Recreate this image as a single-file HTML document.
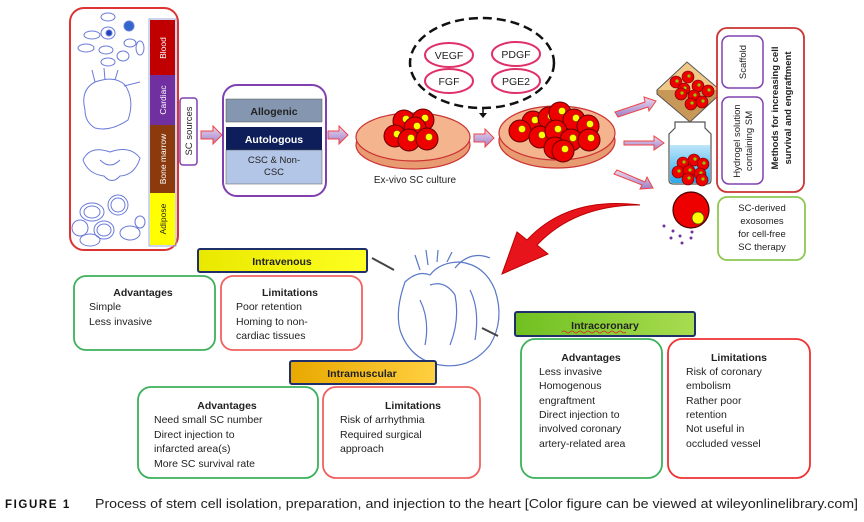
<!DOCTYPE html>
<html><head><meta charset="utf-8"><style>
html,body{margin:0;padding:0;background:#fff}
svg{display:block}
text{font-family:"Liberation Sans",Arial,sans-serif;fill:#222}
</style></head><body>
<svg width="864" height="522" viewBox="0 0 864 522" xmlns="http://www.w3.org/2000/svg">
<defs>
<linearGradient id="ar" x1="0" y1="0" x2="0" y2="1"><stop offset="0" stop-color="#e8d8f0"/><stop offset="1" stop-color="#a080c8"/></linearGradient>
<linearGradient id="yl" x1="0" y1="0" x2="1" y2="0"><stop offset="0" stop-color="#e8e800"/><stop offset="1" stop-color="#ffff20"/></linearGradient>
<linearGradient id="or" x1="0" y1="0" x2="1" y2="0"><stop offset="0" stop-color="#e8a800"/><stop offset="1" stop-color="#ffd040"/></linearGradient>
<linearGradient id="gr" x1="0" y1="0" x2="1" y2="0"><stop offset="0" stop-color="#70c020"/><stop offset="1" stop-color="#a8dc50"/></linearGradient>
<linearGradient id="wt" x1="0" y1="0" x2="0" y2="1"><stop offset="0" stop-color="#bfe6fb"/><stop offset="1" stop-color="#2aa8ea"/></linearGradient>
<g id="cell"><circle r="11" fill="#e00" stroke="#600" stroke-width="1"/><circle cx="2" cy="-2" r="3.5" fill="#ff0" stroke="#660" stroke-width=".5"/></g>
<g id="sc"><circle r="6" fill="#e00" stroke="#600" stroke-width=".6"/><circle cx="1" cy="-1" r="1.6" fill="#8c0"/></g>
</defs>

<!-- Sources box -->
<rect x="70" y="8" width="108" height="242" rx="14" fill="#fff" stroke="#d33" stroke-width="2"/>
<rect x="150" y="20" width="25" height="55" fill="#c00000"/>
<rect x="150" y="75" width="25" height="50" fill="#7030a0"/>
<rect x="150" y="125" width="25" height="68" fill="#8b3a0e"/>
<rect x="150" y="193" width="25" height="52" fill="#ffff00"/>
<rect x="149" y="19" width="27" height="227" fill="none" stroke="#9ad" stroke-width="1"/>
<text transform="translate(166,48) rotate(-90)" text-anchor="middle" font-size="8.5" style="fill:#fff">Blood</text>
<text transform="translate(166,100) rotate(-90)" text-anchor="middle" font-size="8.5" style="fill:#fff">Cardiac</text>
<text transform="translate(166,159) rotate(-90)" text-anchor="middle" font-size="8.5" style="fill:#fff">Bone marrow</text>
<text transform="translate(166,219) rotate(-90)" text-anchor="middle" font-size="8.5" style="fill:#222">Adipose</text>
<!-- sketches -->
<g fill="none" stroke="#6a7ad8" stroke-width="1">
<ellipse cx="108" cy="17" rx="7" ry="4"/><ellipse cx="92" cy="35" rx="8" ry="4"/><ellipse cx="108" cy="33" rx="7" ry="6"/><circle cx="129" cy="26" r="5" fill="#36c"/><circle cx="109" cy="33" r="3" fill="#24b"/>
<ellipse cx="86" cy="48" rx="8" ry="4"/><ellipse cx="106" cy="50" rx="7" ry="4"/><ellipse cx="130" cy="43" rx="6" ry="4"/><ellipse cx="123" cy="56" rx="6" ry="5"/><ellipse cx="140" cy="48" rx="4" ry="7"/><ellipse cx="108" cy="62" rx="7" ry="4"/>
<path d="M85 110 Q80 90 95 82 Q115 75 125 85 Q135 100 128 120 Q110 132 95 128 Q85 122 85 110Z M95 82 L92 70 M105 80 L104 68 M115 80 L118 70 M124 86 L140 82"/>
<path d="M83 160 Q90 145 110 152 Q130 145 140 158 Q135 175 120 176 Q112 185 104 176 Q88 174 83 160Z M100 160 Q110 170 120 160"/>
<ellipse cx="92" cy="212" rx="12" ry="9"/><ellipse cx="92" cy="212" rx="8" ry="6"/><ellipse cx="118" cy="205" rx="10" ry="10"/><ellipse cx="118" cy="205" rx="7" ry="7"/>
<ellipse cx="80" cy="228" rx="8" ry="8"/><ellipse cx="104" cy="230" rx="10" ry="9"/><ellipse cx="104" cy="230" rx="7" ry="6"/><ellipse cx="130" cy="233" rx="10" ry="7"/><ellipse cx="90" cy="240" rx="10" ry="6"/><ellipse cx="140" cy="222" rx="5" ry="6"/>
</g>

<!-- SC sources -->
<rect x="180" y="98" width="17" height="67" rx="3" fill="#fff" stroke="#8040b0" stroke-width="1.5"/>
<text transform="translate(192,131) rotate(-90)" text-anchor="middle" font-size="9.5">SC sources</text>
<path d="M201 131 h12 v-5 l9 9 l-9 9 v-5 h-12z" fill="url(#ar)" stroke="#e44" stroke-width="1"/>

<!-- Allogenic box -->
<rect x="223" y="85" width="103" height="111" rx="14" fill="#fff" stroke="#8040b0" stroke-width="2"/>
<rect x="226" y="99" width="96" height="23" fill="#8496b0" stroke="#555" stroke-width=".5"/>
<text x="274" y="115" text-anchor="middle" font-size="10.5" font-weight="bold">Allogenic</text>
<rect x="226" y="127" width="96" height="23" fill="#0e1e5a"/>
<text x="274" y="143" text-anchor="middle" font-size="10.5" font-weight="bold" style="fill:#fff">Autologous</text>
<rect x="226" y="150" width="96" height="34" fill="#b4c6e7" stroke="#555" stroke-width=".5"/>
<text x="274" y="163" text-anchor="middle" font-size="9.5">CSC &amp; Non-</text>
<text x="274" y="175" text-anchor="middle" font-size="9.5">CSC</text>
<path d="M328 131 h11 v-5 l9 9 l-9 9 v-5 h-11z" fill="url(#ar)" stroke="#e44" stroke-width="1"/>

<!-- Dish 1 -->
<ellipse cx="413" cy="145" rx="57" ry="24" fill="#e89a70" stroke="#c33" stroke-width="1.2"/>
<ellipse cx="413" cy="137" rx="57" ry="24" fill="#f4b48e" stroke="#c33" stroke-width="1.2"/>
<use href="#cell" x="404" y="121"/><use href="#cell" x="423" y="120"/><use href="#cell" x="415" y="128"/><use href="#cell" x="395" y="136"/><use href="#cell" x="409" y="140"/><use href="#cell" x="427" y="139"/>
<text x="415" y="183" text-anchor="middle" font-size="10">Ex-vivo SC culture</text>

<!-- Growth factors -->
<ellipse cx="482" cy="63" rx="72" ry="45" fill="none" stroke="#111" stroke-width="2.5" stroke-dasharray="9,5"/>
<g fill="#fff" stroke="#e0306a" stroke-width="2">
<ellipse cx="449" cy="55" rx="24" ry="12"/><ellipse cx="516" cy="54" rx="24" ry="12"/><ellipse cx="449" cy="81" rx="24" ry="12"/><ellipse cx="516" cy="81" rx="24" ry="12"/></g>
<text x="449" y="59" text-anchor="middle" font-size="10.5">VEGF</text>
<text x="516" y="58" text-anchor="middle" font-size="10.5">PDGF</text>
<text x="449" y="85" text-anchor="middle" font-size="10.5">FGF</text>
<text x="516" y="85" text-anchor="middle" font-size="10.5">PGE2</text>
<path d="M483 107 v8" stroke="#111" stroke-width="1.5"/><path d="M479 113 l4 5 l4 -5z" fill="#111"/>
<path d="M474 134 h11 v-5 l9 9 l-9 9 v-5 h-11z" fill="url(#ar)" stroke="#e44" stroke-width="1"/>

<!-- Dish 2 -->
<ellipse cx="557" cy="141" rx="58" ry="27" fill="#e89a70" stroke="#c33" stroke-width="1.2"/>
<ellipse cx="557" cy="133" rx="58" ry="27" fill="#f4b48e" stroke="#c33" stroke-width="1.2"/>
<use href="#cell" x="533" y="122"/><use href="#cell" x="549" y="118"/><use href="#cell" x="560" y="113"/><use href="#cell" x="574" y="120"/><use href="#cell" x="588" y="126"/><use href="#cell" x="520" y="131"/><use href="#cell" x="540" y="137"/><use href="#cell" x="556" y="131"/><use href="#cell" x="571" y="140"/><use href="#cell" x="589" y="140"/><use href="#cell" x="555" y="148"/><use href="#cell" x="563" y="151"/>

<!-- arrows to right -->
<g fill="url(#ar)" stroke="#e44" stroke-width="1">
<path d="M615 112 l30 -10 l-1 -5 l12 4 l-7 10 l-1 -4 l-30 10z"/>
<path d="M624 141 h30 v-5 l10 7 l-10 7 v-5 h-30z"/>
<path d="M617 170 l28 12 l2 -5 l6 11 l-13 1 l2 -4 l-28 -11z"/>
</g>

<!-- scaffold -->
<path d="M657 90 l30 -28 l33 28 l-30 28z" fill="#f0c888" stroke="#555" stroke-width="1"/>
<path d="M657 90 l0 4 l33 28 l30 -28 l0 -4" fill="#c89858" stroke="#555" stroke-width="1"/>
<use href="#sc" x="676" y="82"/><use href="#sc" x="688" y="77"/><use href="#sc" x="698" y="86"/><use href="#sc" x="684" y="89"/><use href="#sc" x="694" y="96"/><use href="#sc" x="708" y="91"/><use href="#sc" x="691" y="104"/><use href="#sc" x="702" y="102"/><use href="#sc" x="681" y="94"/>

<!-- jar -->
<path d="M675 122 h30 v6 l6 6 v46 q0 4 -4 4 h-34 q-4 0 -4 -4 v-46 l6 -6z" fill="#fff" stroke="#555" stroke-width="1.2"/>
<path d="M670 145 h40 v35 q0 3 -3 3 h-34 q-3 0 -3 -3z" fill="url(#wt)"/>
<use href="#sc" x="683" y="163"/><use href="#sc" x="694" y="160"/><use href="#sc" x="703" y="164"/><use href="#sc" x="678" y="172"/><use href="#sc" x="689" y="171"/><use href="#sc" x="700" y="174"/><use href="#sc" x="688" y="179"/><use href="#sc" x="702" y="180"/>

<!-- sphere + exosomes -->
<circle cx="691" cy="210" r="18" fill="#e00" stroke="#400" stroke-width="1.2"/>
<circle cx="698" cy="218" r="6" fill="#ff0" stroke="#440" stroke-width=".8"/>
<g fill="#7030a0"><circle cx="664" cy="226" r="1.5"/><circle cx="673" cy="231" r="1.5"/><circle cx="671" cy="238" r="1.5"/><circle cx="680" cy="236" r="1.5"/><circle cx="691" cy="238" r="1.5"/><circle cx="682" cy="243" r="1.5"/><circle cx="692" cy="232" r="1.5"/></g>

<!-- Methods box -->
<rect x="717" y="28" width="87" height="164" rx="10" fill="#fff" stroke="#c33" stroke-width="1.8"/>
<rect x="722" y="36" width="41" height="52" rx="7" fill="#fff" stroke="#8040b0" stroke-width="1.5"/>
<text transform="translate(746,62) rotate(-90)" text-anchor="middle" font-size="9.5">Scaffold</text>
<rect x="722" y="97" width="41" height="87" rx="7" fill="#fff" stroke="#8040b0" stroke-width="1.5"/>
<text transform="translate(740,141) rotate(-90)" text-anchor="middle" font-size="9.5">Hydrogel solution</text>
<text transform="translate(752,141) rotate(-90)" text-anchor="middle" font-size="9.5">containing SM</text>
<text transform="translate(778,108) rotate(-90)" text-anchor="middle" font-size="9.5" font-weight="bold">Methods for increasing cell</text>
<text transform="translate(791,108) rotate(-90)" text-anchor="middle" font-size="9.5" font-weight="bold">survival and engraftment</text>

<rect x="718" y="197" width="87" height="63" rx="9" fill="#fff" stroke="#8cc850" stroke-width="1.8"/>
<g font-size="9.5" text-anchor="middle"><text x="762" y="211">SC-derived</text><text x="762" y="224">exosomes</text><text x="762" y="237">for cell-free</text><text x="762" y="250">SC therapy</text></g>

<!-- red curved arrow -->
<path d="M640 205 Q575 205 537 245 L548 254 L502 274 L517 232 L527 240 Q568 196 640 205Z" fill="#e8141c" stroke="#b00" stroke-width="1"/>

<!-- heart -->
<g fill="none" stroke="#5a78c8" stroke-width="1.2">
<path d="M405 282 Q395 310 400 330 Q410 360 440 365 Q470 370 490 345 Q505 320 495 290 Q485 265 460 262 Q440 262 430 275 Q418 270 405 282Z"/>
<path d="M420 270 L415 255 M428 265 L426 250 M437 262 L438 250 M447 262 L452 252 M455 268 Q470 250 490 258 M430 285 Q445 280 455 295 Q460 320 450 345 M470 290 Q480 310 475 340 M420 300 Q430 320 425 345"/>
<path d="M372 258 l22 12 M482 328 l16 8 M432 372 l-6 12" stroke="#444" stroke-width="2"/>
</g>

<!-- Intravenous -->
<rect x="198" y="249" width="169" height="23" rx="2" fill="url(#yl)" stroke="#1f2f6a" stroke-width="2"/>
<text x="282" y="265" text-anchor="middle" font-size="10.5" font-weight="bold">Intravenous</text>
<rect x="74" y="276" width="141" height="74" rx="12" fill="#fff" stroke="#3cb05a" stroke-width="1.8"/>
<text x="143" y="296" text-anchor="middle" font-size="10.5" font-weight="bold">Advantages</text>
<g font-size="10.5"><text x="89" y="310">Simple</text><text x="89" y="325">Less invasive</text></g>
<rect x="221" y="276" width="141" height="74" rx="12" fill="#fff" stroke="#f06060" stroke-width="1.8"/>
<text x="290" y="296" text-anchor="middle" font-size="10.5" font-weight="bold">Limitations</text>
<g font-size="10.5"><text x="236" y="310">Poor retention</text><text x="236" y="325">Homing to non-</text><text x="236" y="339">cardiac tissues</text></g>

<!-- Intramuscular -->
<rect x="290" y="361" width="146" height="23" rx="2" fill="url(#or)" stroke="#1f2f6a" stroke-width="2"/>
<text x="362" y="377" text-anchor="middle" font-size="10.5" font-weight="bold">Intramuscular</text>
<rect x="138" y="387" width="180" height="91" rx="13" fill="#fff" stroke="#3cb05a" stroke-width="1.8"/>
<text x="227" y="409" text-anchor="middle" font-size="10.5" font-weight="bold">Advantages</text>
<g font-size="10.5"><text x="154" y="423">Need small SC number</text><text x="154" y="438">Direct injection to</text><text x="154" y="452">infarcted area(s)</text><text x="154" y="467">More SC survival rate</text></g>
<rect x="323" y="387" width="157" height="91" rx="13" fill="#fff" stroke="#f06060" stroke-width="1.8"/>
<text x="413" y="409" text-anchor="middle" font-size="10.5" font-weight="bold">Limitations</text>
<g font-size="10.5"><text x="340" y="423">Risk of arrhythmia</text><text x="340" y="438">Required surgical</text><text x="340" y="452">approach</text></g>

<!-- Intracoronary -->
<rect x="515" y="312" width="180" height="24" rx="2" fill="url(#gr)" stroke="#1f2f6a" stroke-width="2"/>
<text x="605" y="329" text-anchor="middle" font-size="10.5" font-weight="bold">Intracoronary</text>
<path d="M562 332 q2 -2 4 0 q2 2 4 0 q2 -2 4 0 q2 2 4 0 q2 -2 4 0 q2 2 4 0 q2 -2 4 0 q2 2 4 0 q2 -2 4 0 q2 2 4 0 q2 -2 4 0 q2 2 4 0 q2 -2 4 0 q2 2 4 0 q2 -2 4 0 q2 2 4 0" fill="none" stroke="#d22" stroke-width=".8"/>
<rect x="521" y="339" width="141" height="139" rx="14" fill="#fff" stroke="#3cb05a" stroke-width="1.8"/>
<text x="591" y="361" text-anchor="middle" font-size="10.5" font-weight="bold">Advantages</text>
<g font-size="10.5"><text x="539" y="375">Less invasive</text><text x="539" y="389">Homogenous</text><text x="539" y="404">engraftment</text><text x="539" y="418">Direct injection to</text><text x="539" y="432">involved coronary</text><text x="539" y="447">artery-related area</text></g>
<rect x="668" y="339" width="142" height="139" rx="14" fill="#fff" stroke="#f03030" stroke-width="1.8"/>
<text x="739" y="361" text-anchor="middle" font-size="10.5" font-weight="bold">Limitations</text>
<g font-size="10.5"><text x="686" y="375">Risk of coronary</text><text x="686" y="389">embolism</text><text x="686" y="404">Rather poor</text><text x="686" y="418">retention</text><text x="686" y="432">Not useful in</text><text x="686" y="447">occluded vessel</text></g>

<!-- caption -->
<text x="5" y="508" font-size="11.5" font-weight="bold" letter-spacing="1.6" style="fill:#111">FIGURE 1</text>
<text x="95" y="508" font-size="12.6" textLength="763" lengthAdjust="spacingAndGlyphs" style="fill:#222">Process of stem cell isolation, preparation, and injection to the heart [Color figure can be viewed at wileyonlinelibrary.com]</text>
</svg>
</body></html>
